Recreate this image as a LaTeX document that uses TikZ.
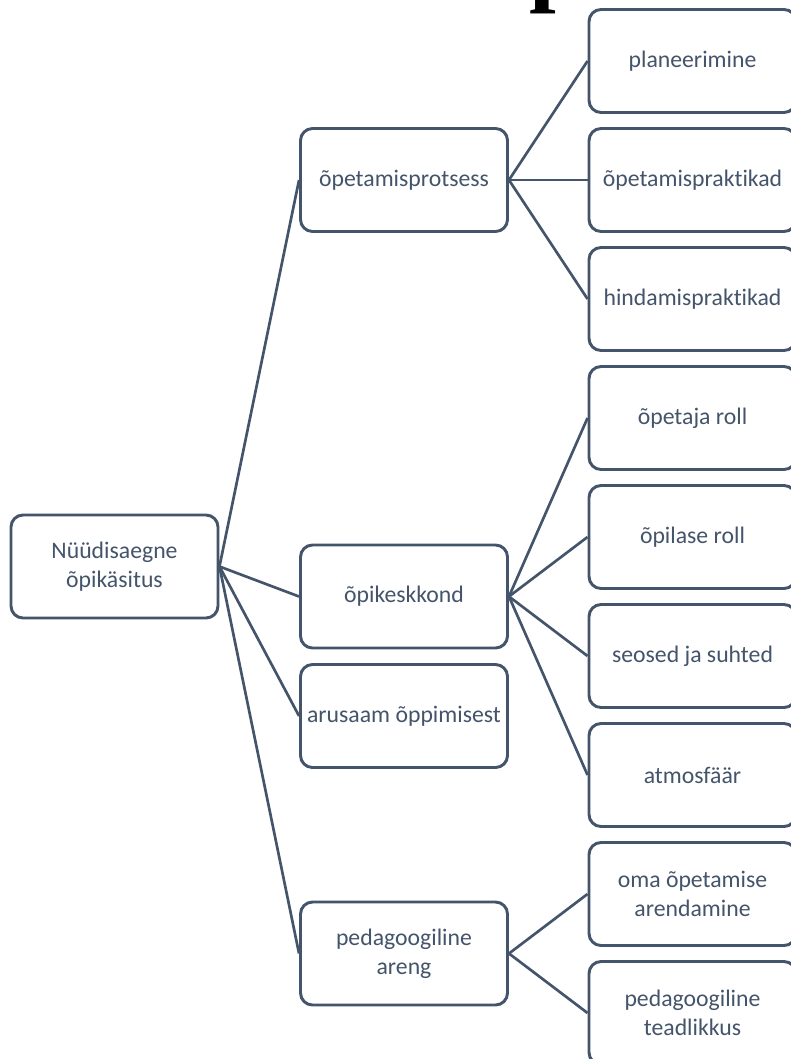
\documentclass[tikz,border=0pt]{standalone}
\usepackage{fontspec}
\setmainfont[Ligatures=NoCommon]{Carlito}
\newfontfamily\titlefont{Liberation Serif}
\definecolor{slate}{HTML}{44546A}
\tikzset{
  box/.style={draw=slate, line width=2.2pt, rounded corners=9pt, fill=white,
    minimum width=155.25pt, minimum height=77.25pt, inner sep=2pt,
    align=center, text=slate,
    font=\fontsize{17.8pt}{21.75pt}\selectfont},
  link/.style={draw=slate, line width=2pt}
}
\begin{document}
\begin{tikzpicture}[x=0.75pt,y=-0.75pt]
\useasboundingbox (0,0) rectangle (791,1059);
\clip (0,0) rectangle (791,1059);
\fill[white] (0,0) rectangle (791,1059);

% heading above the chart, mostly outside the page
\node[anchor=base west, inner sep=0pt, font=\titlefont\bfseries\fontsize{72pt}{80pt}\selectfont]
  (heading) at (529,-6.5) {p};

% root
\node[box] (root) at (114.5,566.5) {Nüüdisaegne\\õpikäsitus};

% second level
\node[box] (prot) at (404,180)   {õpetamisprotsess};
\node[box] (kesk) at (404,596.5) {õpikeskkond};
\node[box] (arus) at (404,716)   {arusaam õppimisest};
\node[box] (ped)  at (404,953.5) {pedagoogiline\\areng};

% third level
\node[box] (plan) at (692.5,61)   {planeerimine};
\node[box] (oppr) at (692.5,180)  {õpetamispraktikad};
\node[box] (hind) at (692.5,299)  {hindamispraktikad};
\node[box] (opet) at (692.5,418)  {õpetaja roll};
\node[box] (opil) at (692.5,537)  {õpilase roll};
\node[box] (seos) at (692.5,656)  {seosed ja suhted};
\node[box] (atmo) at (692.5,775)  {atmosfäär};
\node[box] (oma)  at (692.5,894)  {oma õpetamise\\arendamine};
\node[box] (tead) at (692.5,1013) {pedagoogiline\\teadlikkus};

% connectors
\foreach \t in {prot,kesk,arus,ped} \draw[link] (root.east) -- (\t.west);
\foreach \t in {plan,oppr,hind} \draw[link] (prot.east) -- (\t.west);
\foreach \t in {opet,opil,seos,atmo} \draw[link] (kesk.east) -- (\t.west);
\foreach \t in {oma,tead} \draw[link] (ped.east) -- (\t.west);
\end{tikzpicture}
\end{document}
